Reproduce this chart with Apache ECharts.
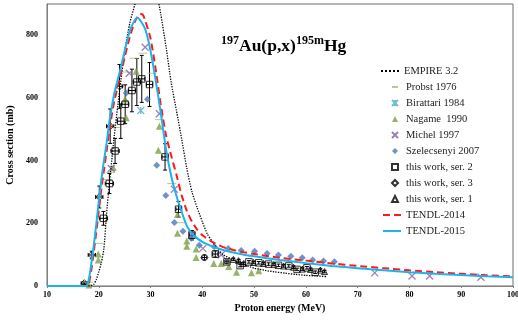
<!DOCTYPE html>
<html><head><meta charset="utf-8">
<script src="https://cdn.jsdelivr.net/npm/echarts@6/dist/echarts.min.js"></script>
<style>html,body{margin:0;padding:0;background:#fff}#c{width:518px;height:320px}</style>
</head><body><div id="c"></div>
<script>
// ---- data ----
const empireE  = [18,19,19.5,20,20.5,21,21.5,22,22.5,23,24,25,26,27,28,29,30,31,32,33,34,35,36,37,38,39,40,41,42,43,44,46,48,50,52,54,56,58,60,62,64];
const empireXS = [0,5,20,45,75,120,230,320,400,480,620,750,840,900,965,1000,990,950,865,762,648,560,470,375,300,250,205,165,140,118,100,83,68,57,50,45,41,37,34,32,30];
const tendl15E  = [10,17.5,18,18.5,19,19.5,20,20.5,21,21.5,22,22.5,23,24,25,26,27,27.5,28,29,30,31,32,33,34,35,36,37,38,39,40,41,42,44,46,48,50,55,60,65,70,75,80,85,90,95,100];
const tendl15XS = [0,0,15,65,125,195,270,340,400,455,520,570,615,680,750,815,850,856,848,818,750,655,550,435,350,288,237,192,168,152,141,133,126,115,107,100,95,83,73,64,57,50,44,39,35,31,28];
const tendl14E  = [10,17.5,18,18.5,19,19.5,20,20.5,21,21.5,22,22.5,23,24,25,26,27,28,28.5,29,30,31,32,33,34,35,36,37,38,39,40,42,44,46,48,50,55,60,65,70,75,80,85,90,95,100];
const tendl14XS = [0,0,3,45,105,170,240,310,370,430,490,545,590,660,730,795,845,868,866,845,790,690,575,480,415,355,290,240,205,180,162,140,124,115,108,102,90,81,72,64,57,50,44,39,34,31];
const probst = [[18.0,12],[20.05,136],[21.7,340],[22.3,362],[23.2,506],[24.9,683],[26.8,727],[28.5,743],[30.25,679],[31.7,531],[34.1,327],[36.05,202]];
const birattari = [[28.1,560]];
const nagame = [[18.1,3],[19.9,83],[19.9,102],[22.8,378],[25.3,537],[25.1,597],[27.2,685],[31.7,510],[31.5,433],[35.2,228],[35.2,168],[37,144],[37,127],[38.8,118],[38.8,91],[42.2,72],[43.65,72],[45.1,62],[46.6,44],[49.5,42],[50.9,49]];
const michel = [[22.4,375],[25.9,679],[28.96,762],[31.7,550],[34.6,309],[38,165],[40.1,120],[43.65,100],[73.3,42],[80.5,32],[83.9,32],[93.8,28]];
const szelecsenyi = [[25.3,616],[29.4,596],[31.2,385],[32.95,289],[34.6,203],[36.25,175],[37.85,152],[39.4,130],[42.3,125],[45,120],[47.5,113],[50.1,111],[52.5,104],[54.7,99],[57.1,95],[59.3,90],[61.3,83],[63.4,80],[65.5,77]];
// this work: [energy, cross section, energy error, cross-section error]
const ser2 = [[20.9,216,0.8,22],[22.05,327,0.8,32],[23.15,431,0.8,40],[24.25,526,0.7,55],[25.1,580,0.7,62],[26.4,624,0.7,68],[27.35,651,0.7,75],[28.3,661,0.6,75],[29.8,643,0.6,70],[32.8,412,0.6,42],[35.4,245,0.5,25],[38,162,0.5,15],[42.5,102,0.5,10],[44.75,77,0.4,6],[47.3,65,0,4],[49,77,0,4],[50.9,74,0,4],[52.8,70,0,4],[54.7,66,0,4],[56.7,64,0,4],[58.3,53,0,4],[60.2,58,0,4],[61.8,44,0,4]];
const ser3 = [[17.2,9,0.6,4],[18.65,99,0.7,12],[20.1,284,0.7,35],[22.2,510,0.7,55],[24,637,0.6,70],[40.4,91,0.5,8]];
const ser1 = [[46,85,0,4],[47,81,0,4],[48,72,0,4],[49.9,75,0,4],[51.8,72,0,4],[53.8,69,0,4],[55.7,64,0,4],[57.6,60,0,4],[59.3,54,0,4],[60.9,53,0,4],[62.8,51,0,4],[63.6,46,0,4]];
const xTicks = {min:10, max:100, step:10};
const yTicks = {min:0, max:900, step:200};

// ---- chart ----
const F = '"Liberation Serif","Times New Roman",serif';
const chart = echarts.init(document.getElementById('c'));
const pairs = (xs, ys) => xs.map((x, i) => [x, ys[i]]);

function renderErr(params, api) {
  const x = api.value(0), y = api.value(1), dx = api.value(2), dy = api.value(3);
  const c = api.coord([x, y]);
  const st = {stroke:'#000', lineWidth:1, fill:null};
  const ch = [];
  const cap = 2;
  if (dy > 0) {
    const lo = api.coord([x, y - dy]), hi = api.coord([x, y + dy]);
    ch.push({type:'line', shape:{x1:c[0], y1:lo[1], x2:c[0], y2:hi[1]}, style:st});
    ch.push({type:'line', shape:{x1:c[0]-cap, y1:lo[1], x2:c[0]+cap, y2:lo[1]}, style:st});
    ch.push({type:'line', shape:{x1:c[0]-cap, y1:hi[1], x2:c[0]+cap, y2:hi[1]}, style:st});
  }
  if (dx > 0) {
    const l = api.coord([x - dx, y]), r = api.coord([x + dx, y]);
    ch.push({type:'line', shape:{x1:l[0], y1:c[1], x2:r[0], y2:c[1]}, style:st});
    ch.push({type:'line', shape:{x1:l[0], y1:c[1]-cap, x2:l[0], y2:c[1]+cap}, style:st});
    ch.push({type:'line', shape:{x1:r[0], y1:c[1]-cap, x2:r[0], y2:c[1]+cap}, style:st});
  }
  return {type:'group', children:ch};
}
const errSeries = (data) => ({type:'custom', renderItem:renderErr, data:data, encode:{x:0, y:1}, silent:true, z:3, clip:true});
const hollow = {color:'rgba(0,0,0,0)', borderColor:'#000', borderWidth:1};
const legText = {fontFamily:F, fontSize:10.5, color:'#222', lineHeight:12};

chart.setOption({
  animation:false,
  backgroundColor:'#fff',
  title:{
    left:216, top:30,
    text:'{s|197}{b|Au(p,x)}{s|195m}{b|Hg}',
    textStyle:{rich:{
      b:{fontFamily:F, fontWeight:'bold', fontSize:17.5, color:'#000', lineHeight:22},
      s:{fontFamily:F, fontWeight:'bold', fontSize:12, color:'#000', verticalAlign:'top', lineHeight:12}
    }}
  },
  grid:{left:47, right:5, top:4, bottom:34, show:true, borderColor:'#6d6d6d', borderWidth:1, containLabel:false, outerBoundsMode:'none'},
  legend:[
    {orient:'vertical', left:375, top:60, itemWidth:18, itemHeight:8, itemGap:4, textStyle:legText,
     itemStyle:{opacity:0}, data:['EMPIRE 3.2']},
    {orient:'vertical', left:386, top:76, itemWidth:6, itemHeight:6, itemGap:4, textStyle:Object.assign({padding:[0,0,0,3]}, legText),
     data:['Probst 1976','Birattari 1984','Nagame  1990','Michel 1997','Szelecsenyi 2007','this work, ser. 2','this work, ser. 3','this work, ser. 1']},
    {orient:'vertical', left:377, top:204, itemWidth:18, itemHeight:8, itemGap:4, textStyle:legText,
     itemStyle:{opacity:0}, data:['TENDL-2014','TENDL-2015']}
  ],
  xAxis:{
    type:'value', min:xTicks.min, max:xTicks.max, interval:xTicks.step,
    name:'Proton energy (MeV)', nameLocation:'middle', nameGap:17,
    nameTextStyle:{fontFamily:F, fontWeight:'bold', fontSize:10, color:'#000'},
    axisLine:{lineStyle:{color:'#808080'}},
    axisTick:{show:true, length:2, lineStyle:{color:'#808080'}},
    axisLabel:{fontFamily:F, fontWeight:'bold', fontSize:8, color:'#000', margin:5},
    splitLine:{show:false}
  },
  yAxis:{
    type:'value', min:yTicks.min, max:yTicks.max, interval:yTicks.step,
    name:'Cross section (mb)', nameLocation:'middle', nameGap:22,
    nameTextStyle:{fontFamily:F, fontWeight:'bold', fontSize:10, color:'#000'},
    axisLine:{show:true, lineStyle:{color:'#808080'}},
    axisTick:{show:false},
    axisLabel:{fontFamily:F, fontWeight:'bold', fontSize:8, color:'#000', margin:9, showMaxLabel:false},
    splitLine:{show:false}
  },
  series:[
    {name:'Probst 1976', type:'scatter', data:probst, symbol:'path://M0,0h9v3h-9z', symbolKeepAspect:true, symbolSize:[9,3], itemStyle:{color:'#a5be76'}, z:4},
    {name:'Birattari 1984', type:'scatter', data:birattari, symbol:'path://M0,0L10,10M10,0L0,10M5,0L5,10', symbolSize:7, itemStyle:{color:'rgba(0,0,0,0)', borderColor:'#4bacc6', borderWidth:1.3}, z:4},
    {name:'Nagame  1990', type:'scatter', data:nagame, symbol:'triangle', symbolSize:7, itemStyle:{color:'#7f9e45'}, z:4},
    {name:'Michel 1997', type:'scatter', data:michel, symbol:'path://M0,0L10,10M10,0L0,10', symbolSize:7, itemStyle:{color:'rgba(0,0,0,0)', borderColor:'#7f62a8', borderWidth:1.3}, z:4},
    {name:'Szelecsenyi 2007', type:'scatter', data:szelecsenyi, symbol:'diamond', symbolSize:7, itemStyle:{color:'#4a78b6'}, z:4},
    errSeries(ser2), errSeries(ser3), errSeries(ser1),
    {name:'this work, ser. 2', type:'scatter', data:ser2, symbol:'rect', symbolSize:6.5, itemStyle:hollow, z:5},
    {name:'this work, ser. 3', type:'scatter', data:ser3, symbol:'diamond', symbolSize:7, itemStyle:hollow, z:5},
    {name:'this work, ser. 1', type:'scatter', data:ser1, symbol:'triangle', symbolSize:6, itemStyle:hollow, z:5},
    {name:'EMPIRE 3.2', type:'line', data:pairs(empireE, empireXS), symbol:'none', smooth:0.2, clip:true, lineStyle:{color:'#000', width:1.3, type:'dotted'}, itemStyle:{color:'#000'}, z:6},
    {name:'TENDL-2014', type:'line', data:pairs(tendl14E, tendl14XS), symbol:'none', smooth:0.2, clip:true, lineStyle:{color:'#ff1a1a', width:2, type:[7,4]}, itemStyle:{color:'#ff1a1a'}, z:6},
    {name:'TENDL-2015', type:'line', data:pairs(tendl15E, tendl15XS), symbol:'none', smooth:0.2, clip:true, lineStyle:{color:'#1eb4ea', width:2}, itemStyle:{color:'#1eb4ea'}, z:7}
  ]
});
</script></body></html>
